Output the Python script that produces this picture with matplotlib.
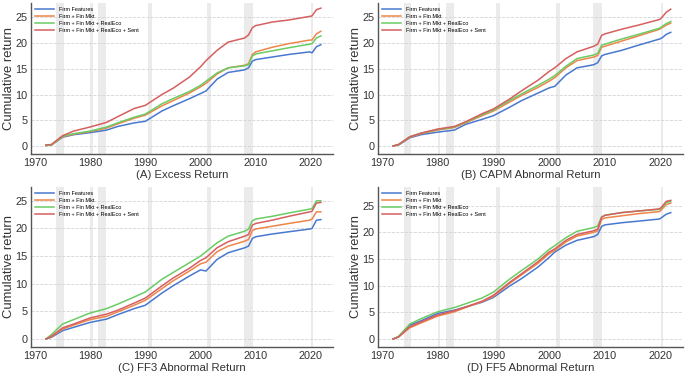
import numpy as np
import matplotlib
matplotlib.use("Agg")
import matplotlib.pyplot as plt

plt.rcParams['font.family'] = ['Liberation Sans', 'DejaVu Sans']

# time grid (years) shared by all series
years = [1972, 1973, 1975, 1977, 1980, 1983, 1985, 1988, 1990, 1993, 1995, 1998,
         2000, 2001, 2003, 2005, 2008, 2008.7, 2009.4, 2010, 2013, 2016, 2019.8,
         2020.2, 2021, 2021.8]

labels = ['Firm Features', 'Firm + Fin Mkt', 'Firm + Fin Mkt + RealEco',
          'Firm + Fin Mkt + RealEco + Sent']
colors = ['#4878d0', '#ee854a', '#6acc64', '#d65f5f']

# recession periods (shaded)
recessions = [(1973.9, 1975.2), (1980.0, 1980.5), (1981.5, 1982.9),
              (1990.5, 1991.2), (2001.2, 2001.9), (2007.9, 2009.5),
              (2020.1, 2020.4)]

# (A) Excess Return
a_firm = [0.1, 0.2, 1.7, 2.2, 2.6, 3.1, 3.8, 4.5, 4.8, 6.8, 7.8, 9.2, 10.2, 10.7, 13.0,
          14.3, 14.8, 15.2, 16.5, 16.8, 17.3, 17.8, 18.3, 18.1, 19.3, 19.7]
a_finmkt = [0.1, 0.2, 1.8, 2.3, 2.8, 3.5, 4.3, 5.4, 6.0, 7.8, 8.8, 10.3, 11.5, 12.2, 14.0,
            15.2, 15.7, 16.0, 17.8, 18.3, 19.2, 19.9, 20.6, 20.6, 21.8, 22.3]
a_realeco = [0.1, 0.2, 1.9, 2.4, 2.9, 3.7, 4.5, 5.6, 6.2, 8.2, 9.2, 10.6, 11.8, 12.6, 14.2,
             15.2, 15.6, 15.8, 17.5, 17.9, 18.5, 19.1, 19.8, 19.9, 21.0, 21.4]
a_sent = [0.2, 0.3, 2.0, 2.9, 3.7, 4.6, 5.7, 7.3, 7.9, 10.0, 11.2, 13.4, 15.4, 16.6, 18.6,
          20.2, 21.0, 21.6, 23.0, 23.4, 24.1, 24.5, 25.2, 25.3, 26.5, 26.8]

# (B) CAPM Abnormal Return
b_firm = [0.0, 0.2, 1.6, 2.2, 2.7, 3.1, 4.2, 5.2, 5.9, 7.6, 8.8, 10.3, 11.3, 11.6, 13.8,
          15.2, 15.8, 16.2, 17.5, 17.8, 18.6, 19.6, 20.8, 21.0, 21.7, 22.1]
b_finmkt = [0.0, 0.3, 1.7, 2.4, 3.1, 3.6, 4.5, 5.9, 6.8, 8.6, 9.8, 11.4, 12.6, 13.3, 15.2,
            16.6, 17.3, 17.6, 19.2, 19.4, 20.4, 21.4, 22.7, 23.0, 23.5, 23.9]
b_realeco = [0.0, 0.3, 1.8, 2.5, 3.2, 3.7, 4.6, 6.1, 7.0, 8.9, 10.1, 11.8, 13.0, 13.7, 15.5,
             17.0, 17.7, 18.0, 19.6, 19.8, 20.8, 21.7, 22.9, 23.2, 23.8, 24.2]
b_sent = [0.0, 0.3, 1.8, 2.5, 3.3, 3.8, 4.7, 6.3, 7.2, 9.2, 10.7, 12.8, 14.5, 15.2, 17.0,
          18.3, 19.4, 19.8, 21.5, 21.8, 22.7, 23.5, 24.6, 25.0, 26.0, 26.6]

# (C) FF3 Abnormal Return
c_firm = [0.0, 0.3, 1.5, 2.1, 3.0, 3.6, 4.4, 5.5, 6.1, 8.3, 9.6, 11.4, 12.5, 12.3, 14.4,
          15.6, 16.5, 16.8, 18.2, 18.5, 19.0, 19.4, 19.9, 20.0, 21.5, 21.6]
c_finmkt = [0.0, 0.4, 1.8, 2.5, 3.5, 4.1, 4.9, 6.1, 7.0, 9.1, 10.5, 12.3, 13.6, 13.9, 15.8,
            16.8, 17.7, 18.0, 19.6, 19.9, 20.4, 20.9, 21.5, 21.7, 23.0, 23.0]
c_realeco = [0.0, 0.8, 2.7, 3.5, 4.7, 5.5, 6.3, 7.6, 8.5, 10.8, 12.0, 13.8, 15.0, 15.8, 17.4,
             18.6, 19.5, 19.9, 21.4, 21.7, 22.2, 22.8, 23.5, 23.6, 25.0, 25.0]
c_sent = [0.0, 0.5, 2.0, 2.7, 3.8, 4.5, 5.2, 6.5, 7.4, 9.6, 11.0, 12.8, 14.2, 14.7, 16.5,
          17.6, 18.6, 18.9, 20.6, 20.9, 21.5, 22.2, 23.0, 23.1, 24.6, 24.7]

# (D) FF5 Abnormal Return
d_firm = [0.0, 0.4, 2.6, 3.4, 4.8, 5.4, 6.0, 6.9, 7.8, 10.0, 11.3, 13.5, 15.3, 16.3, 17.6,
          18.5, 19.2, 19.6, 21.1, 21.4, 21.8, 22.1, 22.5, 22.8, 23.4, 23.7]
d_finmkt = [0.0, 0.4, 2.1, 3.0, 4.3, 5.1, 5.9, 7.0, 8.0, 10.5, 12.0, 14.2, 16.0, 16.6, 18.2,
            19.3, 20.0, 20.3, 22.4, 22.7, 23.1, 23.5, 23.9, 24.3, 25.2, 25.5]
d_realeco = [0.0, 0.5, 2.8, 3.8, 5.1, 5.9, 6.6, 7.7, 8.8, 11.3, 12.8, 15.0, 16.8, 17.5, 19.0,
             20.2, 20.9, 21.2, 22.9, 23.2, 23.7, 24.0, 24.3, 24.6, 25.6, 25.8]
d_sent = [0.0, 0.4, 2.3, 3.2, 4.5, 5.3, 6.0, 7.1, 8.2, 10.7, 12.2, 14.5, 16.3, 16.9, 18.5,
          19.6, 20.3, 20.6, 22.8, 23.2, 23.7, 24.0, 24.4, 24.8, 25.8, 26.0]

panels = [
    ('(A) Excess Return', [a_firm, a_finmkt, a_realeco, a_sent],
     [31, 3, 333, 154], (-1.55, 27.8)),
    ('(B) CAPM Abnormal Return', [b_firm, b_finmkt, b_realeco, b_sent],
     [378, 3, 683, 154], (-1.55, 27.8)),
    ('(C) FF3 Abnormal Return', [c_firm, c_finmkt, c_realeco, c_sent],
     [31, 187, 333, 347], (-1.45, 27.5)),
    ('(D) FF5 Abnormal Return', [d_firm, d_finmkt, d_realeco, d_sent],
     [378, 187, 683, 347], (-1.5, 28.5)),
]

W, H = 685, 376
fig = plt.figure(figsize=(W / 100, H / 100), dpi=100)

for title, series, box, ylim in panels:
    x0, y0, x1, y1 = box
    ax = fig.add_axes([x0 / W, 1 - y1 / H, (x1 - x0) / W, (y1 - y0) / H])
    for r0, r1 in recessions:
        ax.axvspan(r0, r1, color='#ebebeb', lw=0, zorder=0)
    for vals, lab, c in zip(series, labels, colors):
        ax.plot(years, vals, color=c, lw=1.1, label=lab, zorder=3)
    ax.set_xlim(1969.3, 2024.0)
    ax.set_ylim(*ylim)
    ax.set_xticks([1970, 1980, 1990, 2000, 2010, 2020])
    ax.set_yticks([0, 5, 10, 15, 20, 25])
    ax.yaxis.grid(True, ls='--', color='#d4d4d4', lw=0.6, zorder=1)
    ax.set_axisbelow(True)
    for s in ['top', 'right']:
        ax.spines[s].set_visible(False)
    for s in ['left', 'bottom']:
        ax.spines[s].set_color('#555555')
        ax.spines[s].set_linewidth(1.0)
    ax.tick_params(axis='x', length=0, labelsize=7.8, colors='#333333', pad=3)
    ax.tick_params(axis='y', length=0, labelsize=7.8, colors='#333333', pad=2.5)
    ax.set_xlabel(title, fontsize=8.2, color='#333333', labelpad=1)
    ax.set_ylabel('Cumulative return', fontsize=9.4, color='#333333', labelpad=0.5)
    ax.legend(loc='upper left', frameon=False, fontsize=4, handlelength=3.5,
              labelspacing=0.35, borderaxespad=0.3, handletextpad=0.8)

fig.savefig('out.png', dpi=100)
